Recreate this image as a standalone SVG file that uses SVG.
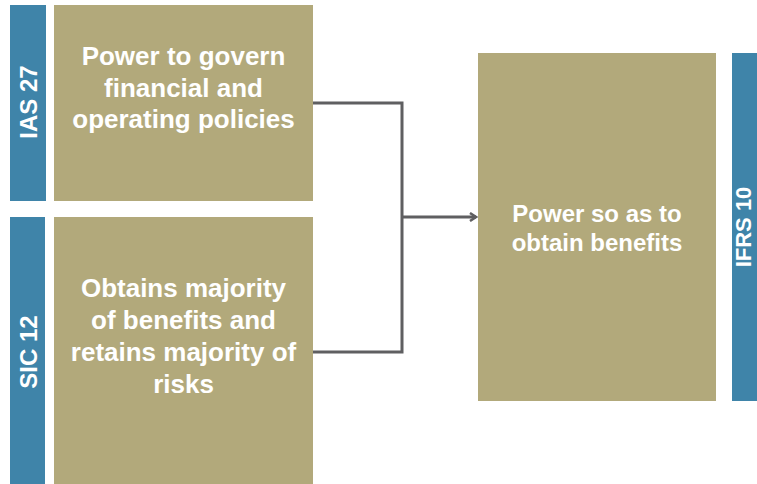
<svg xmlns="http://www.w3.org/2000/svg" width="757" height="484" viewBox="0 0 757 484">
<style>
.bar{fill:#3F84A9}
.box{fill:#B2A97B}
.lbl{font-family:"Liberation Sans",Arial,sans-serif;font-weight:bold;fill:#FFFFFF;text-anchor:middle}
.conn{fill:none;stroke:#5F5F61;stroke-width:3}
</style>
<defs>
<marker id="arr" markerWidth="10" markerHeight="10" refX="8" refY="5" orient="auto" markerUnits="userSpaceOnUse">
<path d="M2,1 L8,5 L2,9" fill="none" stroke="#5F5F61" stroke-width="2.5"/>
</marker>
</defs>
<rect width="757" height="484" fill="#FFFFFF"/>
<g id="ias27">
<rect class="bar" x="10" y="5" width="36" height="196"/>
<text class="lbl" font-size="24" transform="translate(37,102) rotate(-90)">IAS 27</text>
</g>
<g id="power-govern">
<rect class="box" x="54" y="5" width="259" height="196"/>
<text class="lbl" font-size="26"><tspan x="183.5" y="65">Power to govern</tspan><tspan x="183.5" y="97">financial and</tspan><tspan x="183.5" y="128">operating policies</tspan></text>
</g>
<g id="sic12">
<rect class="bar" x="10" y="217" width="35" height="267"/>
<text class="lbl" font-size="24" transform="translate(37,352) rotate(-90)">SIC 12</text>
</g>
<g id="obtains-majority">
<rect class="box" x="54" y="217" width="259" height="267"/>
<text class="lbl" font-size="26"><tspan x="183.5" y="297">Obtains majority</tspan><tspan x="183.5" y="329">of benefits and</tspan><tspan x="183.5" y="361">retains majority of</tspan><tspan x="183.5" y="393">risks</tspan></text>
</g>
<g id="power-benefits">
<rect class="box" x="478" y="53" width="238" height="348"/>
<text class="lbl" font-size="24"><tspan x="597" y="222">Power so as to</tspan><tspan x="597" y="251">obtain benefits</tspan></text>
</g>
<g id="ifrs10">
<rect class="bar" x="732" y="53" width="25" height="348"/>
<text class="lbl" font-size="22" transform="translate(751,227) rotate(-90)">IFRS 10</text>
</g>
<g id="connectors">
<path class="conn" d="M313,103 H402 V352 H313"/>
<path class="conn" d="M403,217 H476" stroke-width="2.5" marker-end="url(#arr)"/>
</g>
</svg>
